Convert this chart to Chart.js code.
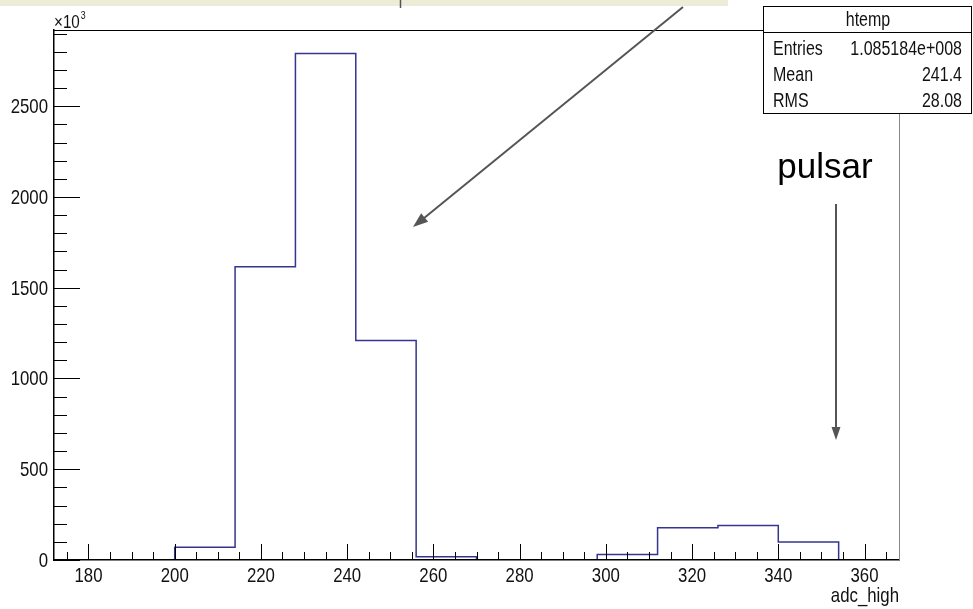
<!DOCTYPE html>
<html>
<head>
<meta charset="utf-8">
<script src="https://cdn.jsdelivr.net/npm/chart.js@4/dist/chart.umd.min.js"></script>
<style>
  body { margin: 0; background: #fff; }
  #wrap { width: 973px; height: 609px; }
</style>
</head>
<body>
<div id="wrap"><canvas id="myChart" width="973" height="609"></canvas></div>
<script>
// bin edges of adc_high (width 14) and counts in units of 10^3
const binEdges = [172, 186, 200, 214, 228, 242, 256, 270, 284, 298, 312, 326, 340, 354, 368];
const counts = [0, 0, 70, 1615, 2790, 1210, 18, 0, 0, 30, 178, 190, 99, 0];
const xTicks = [180, 200, 220, 240, 260, 280, 300, 320, 340, 360];
const yTicks = [0, 500, 1000, 1500, 2000, 2500];

const statsRows = [
  ["Entries", "1.085184e+008"],
  ["Mean", "241.4"],
  ["RMS", "28.08"],
];

const sans = "'Liberation Sans', Arial, sans-serif";
const squeeze = 0.8; // ROOT's helvetica looks condensed in the picture
const histColor = "#35358f";
const arrowColor = "#555555";

// step points: each bin starts at its left edge, last edge closes the outline
const points = binEdges.map((e, i) => ({
  x: e,
  y: i < counts.length ? counts[i] : counts[counts.length - 1],
}));

function narrowText(ctx, txt, x, y, align, size) {
  ctx.save();
  ctx.translate(x, y);
  ctx.scale(squeeze, 1);
  ctx.font = size + "px " + sans;
  ctx.textAlign = align;
  ctx.fillText(txt, 0, 0);
  ctx.restore();
}

function arrow(ctx, x1, y1, x2, y2, len, half) {
  const a = Math.atan2(y2 - y1, x2 - x1);
  ctx.beginPath();
  ctx.moveTo(x1, y1);
  ctx.lineTo(x2 - Math.cos(a) * len * 0.8, y2 - Math.sin(a) * len * 0.8);
  ctx.stroke();
  ctx.beginPath();
  ctx.moveTo(x2, y2);
  ctx.lineTo(x2 - Math.cos(a) * len - Math.sin(a) * half, y2 - Math.sin(a) * len + Math.cos(a) * half);
  ctx.lineTo(x2 - Math.cos(a) * len + Math.sin(a) * half, y2 - Math.sin(a) * len - Math.cos(a) * half);
  ctx.closePath();
  ctx.fill();
}

// ROOT style inward ticks and condensed labels
const rootAxes = {
  id: "rootAxes",
  afterDatasetsDraw(chart) {
    const ctx = chart.ctx;
    const xs = chart.scales.x, ys = chart.scales.y;
    const area = chart.chartArea;
    ctx.save();
    ctx.strokeStyle = "#000";
    ctx.lineWidth = 1;
    ctx.beginPath();
    for (let v = 175; v <= 365; v += 5) {
      const px = Math.round(xs.getPixelForValue(v)) + 0.5;
      const l = v % 20 === 0 ? 16 : 8;
      ctx.moveTo(px, area.bottom);
      ctx.lineTo(px, area.bottom - l);
    }
    for (let v = 0; v <= 2900; v += 100) {
      const py = Math.round(ys.getPixelForValue(v)) + 0.5;
      const l = v % 500 === 0 ? 26 : 13;
      ctx.moveTo(area.left, py);
      ctx.lineTo(area.left + l, py);
    }
    ctx.stroke();

    ctx.fillStyle = "#111";
    ctx.textBaseline = "middle";
    xs.ticks.forEach((t) => narrowText(ctx, String(t.value), xs.getPixelForValue(t.value), 576, "center", 21));
    ys.ticks.forEach((t) => narrowText(ctx, String(t.value), 48, ys.getPixelForValue(t.value) + 1, "right", 21));
    ctx.restore();
  },
  afterDraw(chart) {
    const ctx = chart.ctx;
    const area = chart.chartArea;
    ctx.save();
    // beige strip at the top
    ctx.fillStyle = "#edecd8";
    ctx.fillRect(0, 0, 728, 6);
    ctx.strokeStyle = arrowColor;
    ctx.lineWidth = 1.5;
    ctx.beginPath();
    ctx.moveTo(400.5, 0);
    ctx.lineTo(400.5, 8);
    ctx.stroke();

    // frame: top and right
    ctx.strokeStyle = "#000";
    ctx.lineWidth = 1;
    ctx.beginPath();
    ctx.moveTo(area.left, area.top + 0.5);
    ctx.lineTo(764, area.top + 0.5);
    ctx.stroke();
    ctx.strokeStyle = "#888";
    ctx.beginPath();
    ctx.moveTo(area.right + 0.5, area.top);
    ctx.lineTo(area.right + 0.5, area.bottom);
    ctx.stroke();

    // stats box
    ctx.fillStyle = "#fff";
    ctx.fillRect(763, 6, 209, 108);
    ctx.strokeStyle = "#000";
    ctx.strokeRect(763.5, 6.5, 208, 107);
    ctx.beginPath();
    ctx.moveTo(763.5, 32.5);
    ctx.lineTo(971.5, 32.5);
    ctx.stroke();
    ctx.fillStyle = "#111";
    ctx.textBaseline = "middle";
    narrowText(ctx, "htemp", 868, 20, "center", 20);
    statsRows.forEach((r, i) => {
      const y = 49 + i * 26;
      narrowText(ctx, r[0], 773, y, "left", 20);
      narrowText(ctx, r[1], 962, y, "right", 20);
    });

    // exponent label and axis title
    ctx.textBaseline = "alphabetic";
    narrowText(ctx, "\u00d710", 54, 28, "left", 19);
    ctx.font = "19px " + sans;
    const w = ctx.measureText("\u00d710").width * squeeze;
    narrowText(ctx, "3", 54 + w + 1, 19, "left", 11);
    narrowText(ctx, "adc_high", area.right, 602, "right", 21);

    // annotations
    ctx.fillStyle = "#000";
    ctx.font = "35px " + sans;
    ctx.textAlign = "center";
    ctx.fillText("pulsar", 825, 178);
    ctx.strokeStyle = arrowColor;
    ctx.fillStyle = arrowColor;
    ctx.lineWidth = 2;
    arrow(ctx, 836, 204, 836, 440, 13, 4.5);
    arrow(ctx, 683, 7, 413, 227, 15, 5.5);
    ctx.restore();
  },
};

new Chart(document.getElementById("myChart"), {
  type: "line",
  data: {
    datasets: [{
      data: points,
      stepped: true,
      borderColor: histColor,
      borderWidth: 1.5,
      pointRadius: 0,
      fill: false,
    }],
  },
  options: {
    responsive: false,
    animation: false,
    layout: { padding: { top: 30, right: 74, left: 0, bottom: 0 } },
    plugins: { legend: { display: false }, tooltip: { enabled: false } },
    scales: {
      x: {
        type: "linear",
        min: 172,
        max: 368,
        afterBuildTicks: (s) => { s.ticks = xTicks.map((v) => ({ value: v })); },
        afterFit: (s) => { s.height = 49; },
        grid: { display: false, drawTicks: false },
        border: { display: true, color: "#000", width: 1.5, z: 1 },
        ticks: { display: false },
      },
      y: {
        min: 0,
        max: 2920,
        afterBuildTicks: (s) => { s.ticks = yTicks.map((v) => ({ value: v })); },
        afterFit: (s) => { s.width = 54; },
        grid: { display: false, drawTicks: false },
        border: { display: true, color: "#000", width: 1.5, z: 1 },
        ticks: { display: false },
      },
    },
  },
  plugins: [rootAxes],
});
</script>
</body>
</html>
